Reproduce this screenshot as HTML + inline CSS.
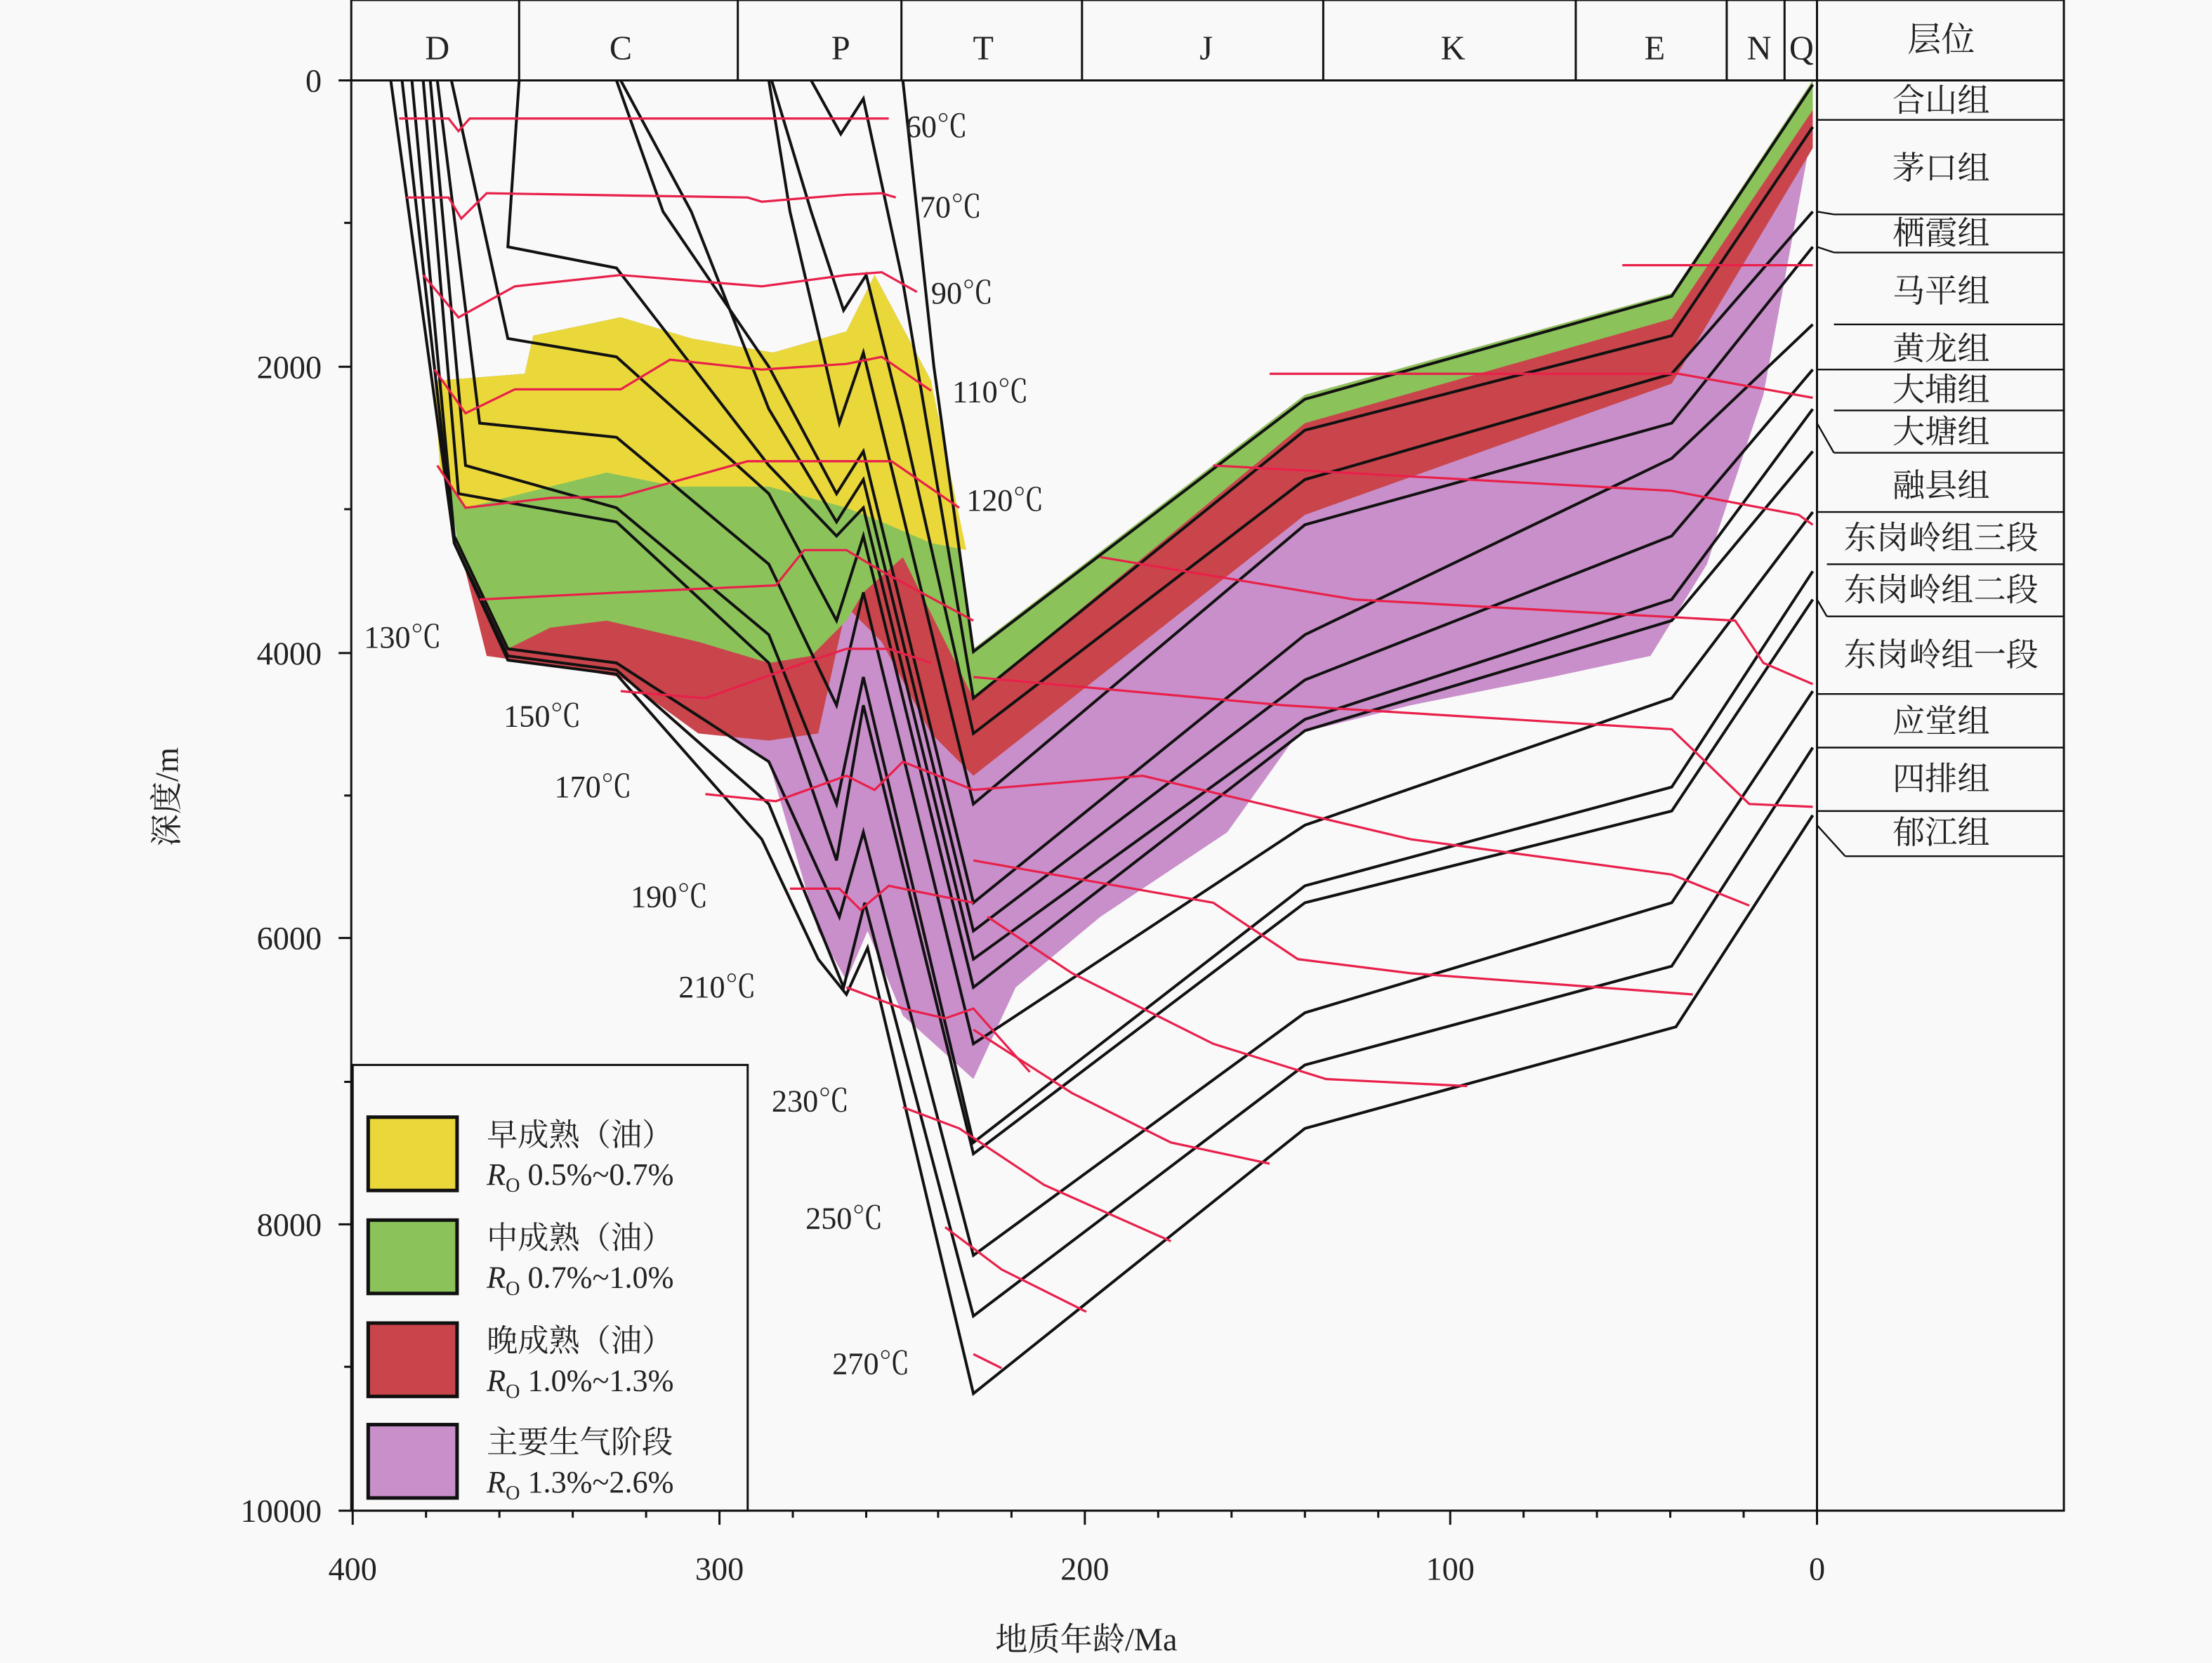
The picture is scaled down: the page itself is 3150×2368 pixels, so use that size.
<!DOCTYPE html>
<html><head><meta charset="utf-8"><style>
html,body{margin:0;padding:0;background:#f9f9f9;}
svg{display:block;}
text{font-family:"Liberation Serif","Noto Serif CJK SC",serif;fill:#222;}
</style></head><body>
<svg width="3150" height="2368" viewBox="0 0 1568 1179" preserveAspectRatio="none" xmlns="http://www.w3.org/2000/svg">
<rect width="1568" height="1179" fill="#f9f9f9"/>
<!-- colored zones -->
<g stroke="none">
<polygon fill="#c98fca" points="308,270 372,265 378,238 440,225 490,240 548,250 600,235 620,195 660,270 690,460 925,280 1185,208 1285,57 1285,90 1250,280 1210,400 1170,465 1100,480 1000,500 920,520 870,590 780,650 720,700 690,765 640,720 615,660 600,695 580,660 545,540 440,475 360,465 325,385"/>
<polygon fill="#c9454b" points="308,270 372,265 378,238 440,225 490,240 548,250 600,235 620,195 660,270 690,460 925,280 1185,208 1285,57 1285,105 1185,272 925,365 690,550 660,520 625,455 600,430 580,520 545,525 495,520 440,480 380,470 345,465 325,385"/>
<polygon fill="#8bc35a" points="308,270 372,265 378,238 440,225 490,240 548,250 600,235 620,195 660,270 690,460 925,280 1185,208 1285,57 1285,78 1185,226 925,300 690,495 640,395 612,420 600,440 575,465 545,470 495,455 430,440 390,445 360,460 325,390"/>
<polygon fill="#ead83a" points="308,270 372,265 378,238 440,225 490,240 548,250 600,235 620,195 660,270 685,390 660,385 625,370 600,360 545,345 480,345 430,335 390,345 330,360 312,335"/>
</g>
<!-- burial curves -->
<g fill="none" stroke="#111" stroke-width="2">
<polyline points="640,57 662,260 690,462 925,283 1185,210 1285,60"/>
<polyline points="575,57 596,95 612,70 640,200 690,495 925,305 1185,238 1285,90"/>
<polyline points="547,57 575,150 598,220 614,195 640,300 690,520 925,340 1185,265 1285,150"/>
<polyline points="545,57 560,150 595,300 612,250 690,570 925,372 1185,300 1285,175"/>
<polyline points="437,57 470,150 545,260 593,350 612,320 690,640 925,450 1185,325 1285,230"/>
<polyline points="440,57 490,150 545,290 593,370 612,340 690,660 925,482 1185,380 1285,262"/>
<polyline points="368,57 360,175 437,190 545,330 593,380 612,360 690,680 925,510 1185,425 1285,290"/>
<polyline points="320,57 360,240 437,253 545,350 593,440 612,380 690,700 925,518 1185,440 1285,320"/>
<polyline points="310,57 340,300 437,310 545,400 593,500 612,420 690,740 925,585 1185,495 1285,363"/>
<polyline points="305,57 330,330 437,360 545,450 593,570 612,480 690,810 925,628 1185,558 1285,405"/>
<polyline points="300,57 325,350 437,370 545,470 593,610 612,500 690,818 925,640 1185,575 1285,425"/>
<polyline points="292,57 322,380 360,460 437,470 545,540 595,650 612,590 690,890 925,718 1185,640 1285,490"/>
<polyline points="285,57 322,385 360,465 437,475 545,570 598,700 613,640 690,933 925,755 1185,685 1285,530"/>
<polyline points="277,57 322,385 360,468 437,478 540,595 580,680 600,705 615,672 690,988 925,800 1188,728 1285,578"/>
</g>
<!-- isotherms -->
<g fill="none" stroke="#e8204a" stroke-width="1.6">
<polyline points="283,84 318,84 325,93 333,84 630,84"/>
<polyline points="288,140 318,140 327,155 345,137 530,140 540,143 600,138 625,137 635,140"/>
<polyline points="300,195 325,225 365,203 440,195 540,203 600,195 625,193 650,207"/>
<polyline points="308,262 330,293 365,276 440,276 475,255 540,262 600,258 625,253 660,277"/>
<polyline points="310,330 330,360 390,353 440,352 530,327 600,327 632,327 680,360"/>
<polyline points="340,425 440,420 550,415 570,390 600,390 625,405 690,440"/>
<polyline points="440,490 500,495 570,470 600,460 630,460 660,470"/>
<polyline points="500,563 550,568 600,550 620,560 640,540 690,560"/>
<polyline points="560,630 595,630 610,645 630,628 690,640"/>
<polyline points="600,700 640,715 670,722 690,715 730,760"/>
<polyline points="1150,188 1285,188"/>
<polyline points="900,265 1190,265 1285,282"/>
<polyline points="860,330 1185,348 1275,365 1285,372"/>
<polyline points="780,395 960,425 1230,440 1250,470 1285,485"/>
<polyline points="690,480 910,500 1185,517 1240,570 1285,572"/>
<polyline points="690,560 810,550 1000,595 1185,620 1240,642"/>
<polyline points="690,610 860,640 920,680 1000,690 1200,705"/>
<polyline points="700,650 760,690 860,740 940,765 1040,770"/>
<polyline points="690,730 760,775 830,810 900,825"/>
<polyline points="640,785 680,800 740,840 830,880"/>
<polyline points="670,870 710,900 770,930"/>
<polyline points="690,960 710,970"/>
</g>
<!-- frame -->
<g fill="none" stroke="#111" stroke-width="1.5">
<rect x="249" y="0" width="1214" height="1071"/>
<line x1="249" y1="57" x2="1463" y2="57"/>
<line x1="1288" y1="0" x2="1288" y2="1071"/>
<line x1="368" y1="0" x2="368" y2="57"/><line x1="523" y1="0" x2="523" y2="57"/>
<line x1="639" y1="0" x2="639" y2="57"/><line x1="767" y1="0" x2="767" y2="57"/>
<line x1="938" y1="0" x2="938" y2="57"/><line x1="1117" y1="0" x2="1117" y2="57"/>
<line x1="1224" y1="0" x2="1224" y2="57"/><line x1="1265" y1="0" x2="1265" y2="57"/>
</g>
<g stroke="#111" stroke-width="1.2" fill="none">
<line x1="1288" y1="85" x2="1463" y2="85"/>
<line x1="1300" y1="152" x2="1463" y2="152"/><polyline points="1288,150 1300,152"/>
<line x1="1300" y1="179" x2="1463" y2="179"/><polyline points="1288,175 1300,179"/>
<line x1="1300" y1="230" x2="1463" y2="230"/>
<line x1="1300" y1="262" x2="1463" y2="262"/><polyline points="1288,262 1300,262"/>
<line x1="1300" y1="291" x2="1463" y2="291"/>
<line x1="1300" y1="321" x2="1463" y2="321"/><polyline points="1288,300 1300,321"/>
<line x1="1288" y1="363" x2="1463" y2="363"/>
<line x1="1295" y1="400" x2="1463" y2="400"/>
<line x1="1295" y1="437" x2="1463" y2="437"/><polyline points="1288,425 1295,437"/>
<line x1="1288" y1="492" x2="1463" y2="492"/>
<line x1="1288" y1="530" x2="1463" y2="530"/>
<line x1="1288" y1="575" x2="1463" y2="575"/>
<line x1="1308" y1="607" x2="1463" y2="607"/><polyline points="1288,585 1308,607"/>
</g>
<!-- header labels -->
<g font-size="24" text-anchor="middle">
<text x="310" y="42">D</text><text x="440" y="42">C</text><text x="596" y="42">P</text>
<text x="697" y="42">T</text><text x="855" y="42">J</text><text x="1030" y="42">K</text>
<text x="1173" y="42">E</text><text x="1247" y="42">N</text><text x="1277" y="42">Q</text>
<text x="1376" y="36">层位</text>
</g>
<g font-size="23" text-anchor="middle">
<text x="1376" y="79">合山组</text><text x="1376" y="127">茅口组</text><text x="1376" y="173">栖霞组</text>
<text x="1376" y="214">马平组</text><text x="1376" y="255">黄龙组</text><text x="1376" y="284">大埔组</text>
<text x="1376" y="314">大塘组</text><text x="1376" y="352">融县组</text><text x="1376" y="389">东岗岭组三段</text>
<text x="1376" y="426">东岗岭组二段</text><text x="1376" y="472">东岗岭组一段</text><text x="1376" y="519">应堂组</text>
<text x="1376" y="560">四排组</text><text x="1376" y="598">郁江组</text>
</g>
<!-- temperature labels -->
<g font-size="22">
<text x="642" y="97">60℃</text><text x="652" y="154">70℃</text><text x="660" y="215">90℃</text>
<text x="675" y="285">110℃</text><text x="685" y="362">120℃</text><text x="258" y="459">130℃</text>
<text x="357" y="515">150℃</text><text x="393" y="565">170℃</text><text x="447" y="643">190℃</text>
<text x="481" y="707">210℃</text><text x="547" y="788">230℃</text><text x="571" y="871">250℃</text>
<text x="590" y="974">270℃</text>
</g>
<!-- axes ticks -->
<g stroke="#111" stroke-width="1.5">
<line x1="240" y1="57" x2="249" y2="57"/><line x1="240" y1="260" x2="249" y2="260"/>
<line x1="240" y1="463" x2="249" y2="463"/><line x1="240" y1="665" x2="249" y2="665"/>
<line x1="240" y1="868" x2="249" y2="868"/><line x1="240" y1="1071" x2="249" y2="1071"/>
<line x1="244" y1="158" x2="249" y2="158"/><line x1="244" y1="361" x2="249" y2="361"/>
<line x1="244" y1="564" x2="249" y2="564"/><line x1="244" y1="767" x2="249" y2="767"/><line x1="244" y1="969" x2="249" y2="969"/>
<line x1="250" y1="1071" x2="250" y2="1081"/><line x1="510" y1="1071" x2="510" y2="1081"/>
<line x1="769" y1="1071" x2="769" y2="1081"/><line x1="1028" y1="1071" x2="1028" y2="1081"/>
<line x1="1288" y1="1071" x2="1288" y2="1081"/>
<line x1="302" y1="1071" x2="302" y2="1076"/><line x1="354" y1="1071" x2="354" y2="1076"/><line x1="406" y1="1071" x2="406" y2="1076"/><line x1="458" y1="1071" x2="458" y2="1076"/>
<line x1="562" y1="1071" x2="562" y2="1076"/><line x1="614" y1="1071" x2="614" y2="1076"/><line x1="665" y1="1071" x2="665" y2="1076"/><line x1="717" y1="1071" x2="717" y2="1076"/>
<line x1="821" y1="1071" x2="821" y2="1076"/><line x1="873" y1="1071" x2="873" y2="1076"/><line x1="925" y1="1071" x2="925" y2="1076"/><line x1="977" y1="1071" x2="977" y2="1076"/>
<line x1="1080" y1="1071" x2="1080" y2="1076"/><line x1="1132" y1="1071" x2="1132" y2="1076"/><line x1="1184" y1="1071" x2="1184" y2="1076"/><line x1="1236" y1="1071" x2="1236" y2="1076"/>
</g>
<g font-size="23" text-anchor="end">
<text x="228" y="65">0</text><text x="228" y="268">2000</text><text x="228" y="471">4000</text>
<text x="228" y="673">6000</text><text x="228" y="876">8000</text><text x="228" y="1079">10000</text>
</g>
<g font-size="23" text-anchor="middle">
<text x="250" y="1120">400</text><text x="510" y="1120">300</text><text x="769" y="1120">200</text>
<text x="1028" y="1120">100</text><text x="1288" y="1120">0</text>
<text x="770" y="1170">地质年龄/Ma</text>
<text transform="translate(126,565) rotate(-90)">深度/m</text>
</g>
<!-- legend -->
<rect x="250" y="755" width="280" height="316" fill="#f9f9f9" stroke="#111" stroke-width="1.5"/>
<g stroke="#111" stroke-width="2.5">
<rect x="261" y="792" width="63" height="52" fill="#ead83a"/>
<rect x="261" y="865" width="63" height="52" fill="#8bc35a"/>
<rect x="261" y="938" width="63" height="52" fill="#c9454b"/>
<rect x="261" y="1010" width="63" height="52" fill="#c98fca"/>
</g>
<g font-size="22">
<text x="345" y="812">早成熟（油）</text>
<text x="345" y="840"><tspan font-style="italic">R</tspan><tspan font-size="14" dy="5">O</tspan><tspan dy="-5"> 0.5%~0.7%</tspan></text>
<text x="345" y="885">中成熟（油）</text>
<text x="345" y="913"><tspan font-style="italic">R</tspan><tspan font-size="14" dy="5">O</tspan><tspan dy="-5"> 0.7%~1.0%</tspan></text>
<text x="345" y="958">晚成熟（油）</text>
<text x="345" y="986"><tspan font-style="italic">R</tspan><tspan font-size="14" dy="5">O</tspan><tspan dy="-5"> 1.0%~1.3%</tspan></text>
<text x="345" y="1030">主要生气阶段</text>
<text x="345" y="1058"><tspan font-style="italic">R</tspan><tspan font-size="14" dy="5">O</tspan><tspan dy="-5"> 1.3%~2.6%</tspan></text>
</g>
</svg>
</body></html>
